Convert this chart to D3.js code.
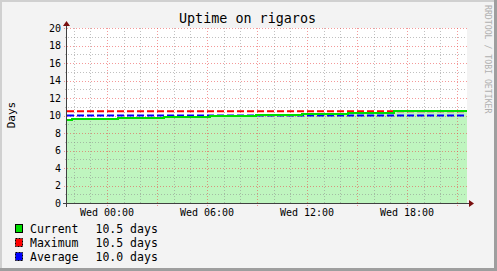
<!DOCTYPE html>
<html><head><meta charset="utf-8">
<script src="https://cdn.jsdelivr.net/npm/d3@7"></script>
<style>html,body{margin:0;padding:0;background:#f3f3f3;overflow:hidden}svg{display:block}</style>
</head><body><svg id="c" width="497" height="271"></svg>
<script>
// ---- data ----
const chartTitle = "Uptime on rigaros";
const yAxisTitle = "Days";
const watermark = "RRDTOOL / TOBI OETIKER";
// hours relative to Wed 00:00 at which each step of "Current" begins
const stepStartHours = [-2.4, -2.1, 0.66, 3.42, 6.18, 8.94, 11.7, 14.46, 17.22];
const currentDays = [9.52, 9.63, 9.75, 9.86, 9.98, 10.09, 10.21, 10.32, 10.48];
const windowHours = [-2.4, 21.6];
const maximumDays = 10.5;
const averageDays = 10.0;
const yDomain = [0, 20];
const yLabelTicks = [0, 2, 4, 6, 8, 10, 12, 14, 16, 18, 20];
const xLabelHours = [0, 6, 12, 18];
const legendNames = ["Current", "Maximum", "Average"];
const legendValues = ["10.5 days", "10.5 days", "10.0 days"];
const legendColors = ["#00dd00", "#ff0000", "#0000ff"];

// ---- drawing ----
const W = 497, H = 271;
const m = {left: 67, right: 467, top: 28, bottom: 203};
const svg = d3.select("#c");
const base = Date.UTC(2024, 0, 3, 0, 0, 0); // a Wednesday
const hr = h => new Date(base + h * 3600e3);

const x = d3.scaleUtc().domain(windowHours.map(hr)).range([m.left, m.right]);
const y = d3.scaleLinear().domain(yDomain).range([m.bottom, m.top]);

// canvas + 3D frame
svg.append("rect").attr("width", W).attr("height", H).attr("fill", "#f3f3f3");
svg.append("rect").attr("x", 0).attr("y", 0).attr("width", W).attr("height", 2).attr("fill", "#d0d0d0");
svg.append("rect").attr("x", 0).attr("y", 0).attr("width", 2).attr("height", H).attr("fill", "#d0d0d0");
svg.append("rect").attr("x", W - 3).attr("y", 0).attr("width", 3).attr("height", H).attr("fill", "#9e9e9e");
svg.append("rect").attr("x", 0).attr("y", H - 3).attr("width", W).attr("height", 3).attr("fill", "#9e9e9e");

// plot background
svg.append("rect").attr("x", m.left).attr("y", m.top).attr("width", m.right - m.left)
  .attr("height", m.bottom - m.top).attr("fill", "#ffffff");

const pts = stepStartHours.map((h, i) => ({t: hr(h), v: currentDays[i]}));
pts.push({t: hr(windowHours[1]), v: currentDays[currentDays.length - 1]});

svg.append("path").datum(pts)
  .attr("d", d3.area().curve(d3.curveStepAfter).x(d => x(d.t)).y0(y(0)).y1(d => y(d.v)))
  .attr("fill", "#bff5bf");

// grid
const g = svg.append("g").attr("shape-rendering", "crispEdges");
const minorCol = "rgba(140,140,140,0.55)", majorCol = "rgba(235,70,70,0.55)";
const hourTicks = x.ticks(d3.utcHour.every(1));
hourTicks.forEach(t => {
  const major = t.getUTCHours() % 3 === 0;
  const xx = Math.round(x(t)) + 0.5;
  g.append("line").attr("x1", xx).attr("x2", xx).attr("y1", m.top).attr("y2", m.bottom + (major ? 3 : 2))
    .attr("stroke", major ? majorCol : minorCol).attr("stroke-dasharray", "1,2");
});
d3.range(yDomain[0] + 1, yDomain[1] + 1).forEach(v => {
  const major = v % 2 === 0;
  const yy = Math.round(y(v)) + 0.5;
  g.append("line").attr("x1", m.left - (major ? 3 : 2)).attr("x2", m.right).attr("y1", yy).attr("y2", yy)
    .attr("stroke", major ? majorCol : minorCol).attr("stroke-dasharray", "1,2");
});

// max / average dashed lines
[[maximumDays, legendColors[1]], [averageDays, legendColors[2]]].forEach(([v, c]) => {
  svg.append("line").attr("x1", m.left).attr("x2", m.right).attr("y1", y(v)).attr("y2", y(v))
    .attr("stroke", c).attr("stroke-width", 2).attr("stroke-dasharray", "7,3");
});

// current line
svg.append("path").datum(pts)
  .attr("d", d3.line().curve(d3.curveStepAfter).x(d => x(d.t)).y(d => Math.round(y(d.v))))
  .attr("fill", "none").attr("stroke", legendColors[0]).attr("stroke-width", 2);

// axes
const axisCol = "#404040", arrowCol = "#7a1010";
svg.append("line").attr("x1", m.left - 4).attr("x2", m.right + 3).attr("y1", m.bottom + 0.5).attr("y2", m.bottom + 0.5)
  .attr("stroke", axisCol);
svg.append("line").attr("x1", m.left - 0.5).attr("x2", m.left - 0.5).attr("y1", m.bottom + 4).attr("y2", m.top - 3)
  .attr("stroke", axisCol);
svg.append("path").attr("d", `M${m.right + 2},${m.bottom - 3}L${m.right + 7},${m.bottom + 0.5}L${m.right + 2},${m.bottom + 4}Z`)
  .attr("fill", arrowCol);
svg.append("path").attr("d", `M${m.left - 4},${m.top - 2}L${m.left - 0.5},${m.top - 7}L${m.left + 3},${m.top - 2}Z`)
  .attr("fill", arrowCol);

const mono = "'DejaVu Sans Mono', monospace";
// y labels
svg.append("g").selectAll("text").data(yLabelTicks).join("text")
  .attr("x", 61).attr("y", d => y(d)).attr("dy", "0.35em").attr("text-anchor", "end")
  .attr("font-family", mono).attr("font-size", 10).attr("fill", "#000").text(d => d);
// x labels
const fmt = d3.utcFormat("%a %H:%M");
svg.append("g").selectAll("text").data(xLabelHours).join("text")
  .attr("x", d => x(hr(d))).attr("y", 216).attr("text-anchor", "middle")
  .attr("font-family", mono).attr("font-size", 10).attr("fill", "#000").text(d => fmt(hr(d)));

// title
svg.append("text").attr("x", 247.5).attr("y", 23).attr("text-anchor", "middle")
  .attr("font-family", mono).attr("font-size", 13.4).attr("fill", "#000").text(chartTitle);
// y axis title
svg.append("text").attr("transform", "translate(14.5,115) rotate(-90)").attr("text-anchor", "middle")
  .attr("font-family", mono).attr("font-size", 11).attr("fill", "#000").text(yAxisTitle);
// watermark
svg.append("text").attr("transform", "translate(485,5) rotate(90)").attr("text-anchor", "start")
  .attr("font-family", mono).attr("font-size", 8.2).attr("fill", "#b0b0b0").text(watermark);

// legend
legendNames.forEach((n, i) => {
  const yy = 233 + i * 14;
  svg.append("rect").attr("x", 15.5).attr("y", yy - 8.5).attr("width", 7).attr("height", 8)
    .attr("fill", legendColors[i]).attr("stroke", "#000").attr("stroke-width", 1)
    .attr("stroke-dasharray", i === 0 ? null : "2,1");
  svg.append("text").attr("x", 30).attr("y", yy).attr("font-family", mono).attr("font-size", 11.5)
    .attr("fill", "#000").text(n);
  svg.append("text").attr("x", 95.5).attr("y", yy).attr("font-family", mono).attr("font-size", 11.5)
    .attr("fill", "#000").text(legendValues[i]);
});
</script></body></html>
